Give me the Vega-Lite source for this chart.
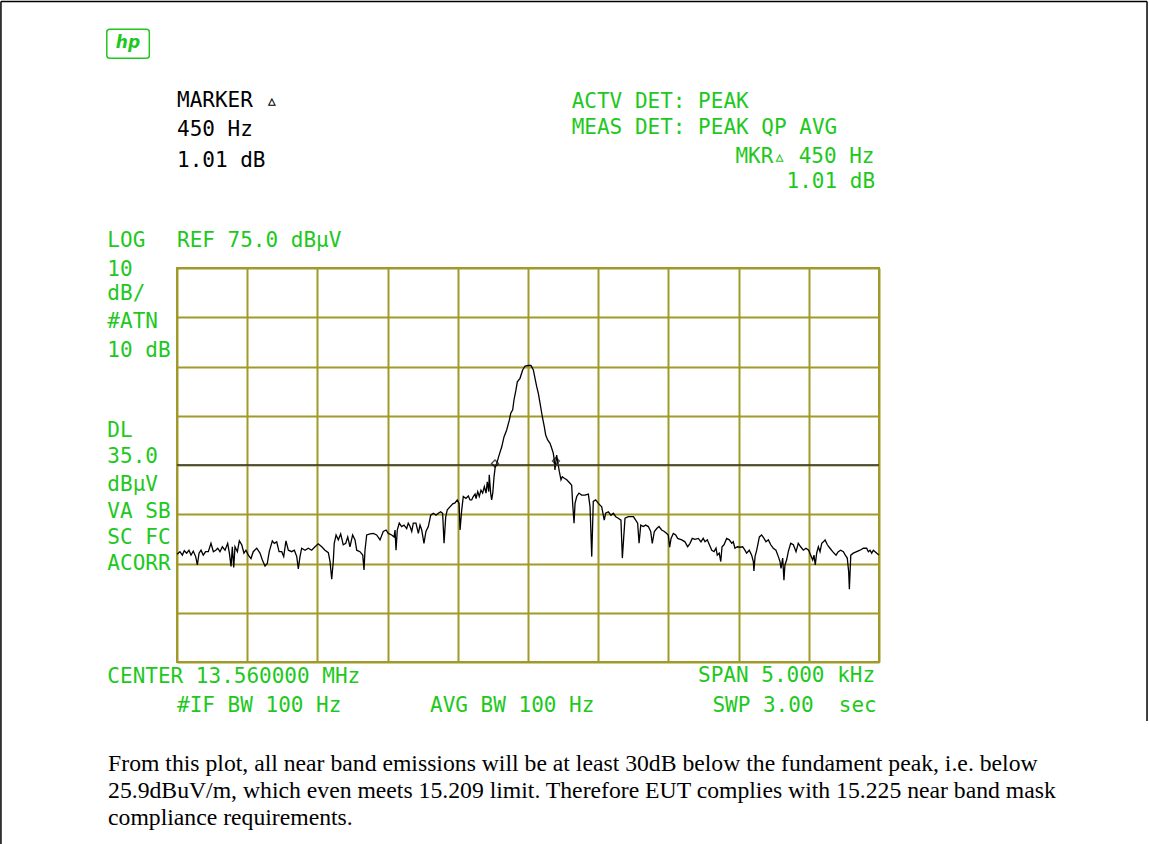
{
  "$schema": "https://vega.github.io/schema/vega-lite/v6.json",
  "width": 702,
  "height": 394,
  "autosize": {"type": "none"},
  "padding": {"left": 177, "top": 268, "right": 270, "bottom": 182},
  "background": "white",
  "config": {
    "view": {"stroke": "#9f9a2a", "strokeWidth": 2},
    "axis": {"labels": false, "ticks": false, "domain": false, "title": null, "grid": true, "gridColor": "#9f9a2a", "gridWidth": 2, "gridOpacity": 1},
    "text": {"font": "DejaVu Sans Mono", "fontSize": 21, "color": "#1ec81e", "align": "left", "baseline": "middle"}
  },
  "layer": [
    {
      "data": {"values": [
        {"hz":-2500,"dbuv":16.9},{"hz":-2479,"dbuv":17.4},{"hz":-2462,"dbuv":16.7},{"hz":-2448,"dbuv":17.6},{"hz":-2431,"dbuv":17.1},{"hz":-2415,"dbuv":17.7},{"hz":-2400,"dbuv":16.7},{"hz":-2384,"dbuv":17.5},{"hz":-2367,"dbuv":16.4},{"hz":-2355,"dbuv":14.7},{"hz":-2343,"dbuv":17.1},{"hz":-2329,"dbuv":17.7},{"hz":-2313,"dbuv":16.7},{"hz":-2296,"dbuv":17.4},{"hz":-2277,"dbuv":17.4},{"hz":-2258,"dbuv":19.1},{"hz":-2241,"dbuv":17.4},{"hz":-2224,"dbuv":17.7},{"hz":-2210,"dbuv":18.1},{"hz":-2194,"dbuv":17.4},{"hz":-2177,"dbuv":18.4},{"hz":-2158,"dbuv":17.7},{"hz":-2139,"dbuv":19.1},{"hz":-2127,"dbuv":17.1},{"hz":-2115,"dbuv":14.4},{"hz":-2106,"dbuv":18.4},{"hz":-2096,"dbuv":14.2},{"hz":-2087,"dbuv":18.4},{"hz":-2070,"dbuv":17.4},{"hz":-2056,"dbuv":19.6},{"hz":-2039,"dbuv":18.8},{"hz":-2023,"dbuv":17.1},{"hz":-2009,"dbuv":17.7},{"hz":-1992,"dbuv":16.7},{"hz":-1973,"dbuv":16.0},{"hz":-1957,"dbuv":17.4},{"hz":-1932,"dbuv":18.1},{"hz":-1909,"dbuv":17.1},{"hz":-1892,"dbuv":15.7},{"hz":-1873,"dbuv":14.5},{"hz":-1857,"dbuv":15.0},{"hz":-1843,"dbuv":17.4},{"hz":-1821,"dbuv":19.6},{"hz":-1807,"dbuv":19.1},{"hz":-1790,"dbuv":19.4},{"hz":-1773,"dbuv":17.4},{"hz":-1754,"dbuv":17.4},{"hz":-1740,"dbuv":16.4},{"hz":-1724,"dbuv":19.6},{"hz":-1707,"dbuv":17.7},{"hz":-1683,"dbuv":17.4},{"hz":-1664,"dbuv":17.7},{"hz":-1647,"dbuv":16.4},{"hz":-1636,"dbuv":13.9},{"hz":-1624,"dbuv":16.4},{"hz":-1612,"dbuv":18.1},{"hz":-1588,"dbuv":17.7},{"hz":-1565,"dbuv":18.1},{"hz":-1541,"dbuv":17.7},{"hz":-1517,"dbuv":18.4},{"hz":-1494,"dbuv":19.0},{"hz":-1469,"dbuv":18.4},{"hz":-1446,"dbuv":17.7},{"hz":-1422,"dbuv":17.2},{"hz":-1410,"dbuv":15.4},{"hz":-1398,"dbuv":11.8},{"hz":-1387,"dbuv":15.4},{"hz":-1380,"dbuv":19.1},{"hz":-1367,"dbuv":20.8},{"hz":-1351,"dbuv":19.8},{"hz":-1334,"dbuv":21.0},{"hz":-1316,"dbuv":18.8},{"hz":-1298,"dbuv":19.1},{"hz":-1284,"dbuv":20.4},{"hz":-1268,"dbuv":18.4},{"hz":-1249,"dbuv":20.8},{"hz":-1232,"dbuv":19.8},
        {"hz":-1220,"dbuv":17.7},{"hz":-1197,"dbuv":17.4},{"hz":-1177,"dbuv":16.7},{"hz":-1168,"dbuv":13.7},{"hz":-1161,"dbuv":17.7},{"hz":-1149,"dbuv":20.8},{"hz":-1125,"dbuv":21.0},{"hz":-1102,"dbuv":21.1},{"hz":-1078,"dbuv":20.8},{"hz":-1054,"dbuv":19.8},{"hz":-1031,"dbuv":21.5},{"hz":-1011,"dbuv":21.8},{"hz":-995,"dbuv":21.1},{"hz":-971,"dbuv":20.8},{"hz":-954,"dbuv":20.4},{"hz":-947,"dbuv":21.8},{"hz":-940,"dbuv":17.7},{"hz":-931,"dbuv":21.8},{"hz":-917,"dbuv":23.2},{"hz":-900,"dbuv":22.5},{"hz":-883,"dbuv":22.8},{"hz":-864,"dbuv":22.1},{"hz":-853,"dbuv":23.2},{"hz":-840,"dbuv":22.5},{"hz":-828,"dbuv":21.5},{"hz":-817,"dbuv":23.2},{"hz":-798,"dbuv":23.2},{"hz":-781,"dbuv":21.1},{"hz":-769,"dbuv":22.8},{"hz":-757,"dbuv":21.8},{"hz":-741,"dbuv":19.1},{"hz":-727,"dbuv":21.5},{"hz":-710,"dbuv":22.5},{"hz":-693,"dbuv":24.8},{"hz":-674,"dbuv":25.2},{"hz":-655,"dbuv":24.8},{"hz":-639,"dbuv":25.2},{"hz":-622,"dbuv":25.5},{"hz":-608,"dbuv":25.2},{"hz":-598,"dbuv":19.1},{"hz":-586,"dbuv":24.5},{"hz":-575,"dbuv":25.9},{"hz":-556,"dbuv":26.5},{"hz":-536,"dbuv":27.1},{"hz":-520,"dbuv":27.3},{"hz":-504,"dbuv":27.9},{"hz":-491,"dbuv":27.2},{"hz":-484,"dbuv":21.8},{"hz":-472,"dbuv":25.9},{"hz":-461,"dbuv":28.6},{"hz":-442,"dbuv":28.2},{"hz":-425,"dbuv":28.7},{"hz":-413,"dbuv":27.9},{"hz":-401,"dbuv":27.9},{"hz":-390,"dbuv":28.6},{"hz":-377,"dbuv":29.1},{"hz":-370,"dbuv":28.2},{"hz":-358,"dbuv":29.6},{"hz":-347,"dbuv":28.6},{"hz":-335,"dbuv":29.9},{"hz":-323,"dbuv":29.3},{"hz":-311,"dbuv":30.6},{"hz":-299,"dbuv":29.3},{"hz":-290,"dbuv":31.6},{"hz":-280,"dbuv":29.6},{"hz":-276,"dbuv":33.0},{"hz":-266,"dbuv":29.3},{"hz":-259,"dbuv":27.9},{"hz":-251,"dbuv":29.3},{"hz":-242,"dbuv":32.6},{"hz":-233,"dbuv":34.7},{"hz":-223,"dbuv":35.3},{"hz":-209,"dbuv":36.7},{"hz":-187,"dbuv":38.7},{"hz":-171,"dbuv":40.7},{"hz":-152,"dbuv":42.1},{"hz":-133,"dbuv":44.1},{"hz":-123,"dbuv":45.5},{"hz":-109,"dbuv":46.2},{"hz":-100,"dbuv":48.2},{"hz":-86,"dbuv":50.2},{"hz":-76,"dbuv":51.9},{"hz":-57,"dbuv":52.6},{"hz":-38,"dbuv":54.3},{"hz":-21,"dbuv":55.1},{"hz":2,"dbuv":55.2},
        {"hz":21,"dbuv":55.2},{"hz":38,"dbuv":54.3},{"hz":50,"dbuv":52.6},{"hz":62,"dbuv":50.9},{"hz":74,"dbuv":49.5},{"hz":86,"dbuv":47.5},{"hz":102,"dbuv":44.8},{"hz":116,"dbuv":42.8},{"hz":126,"dbuv":41.1},{"hz":140,"dbuv":40.1},{"hz":157,"dbuv":39.4},{"hz":169,"dbuv":38.4},{"hz":180,"dbuv":37.4},{"hz":187,"dbuv":36.0},{"hz":192,"dbuv":34.0},{"hz":204,"dbuv":37.0},{"hz":214,"dbuv":35.2},{"hz":223,"dbuv":33.7},{"hz":235,"dbuv":32.0},{"hz":244,"dbuv":32.6},{"hz":259,"dbuv":32.3},{"hz":276,"dbuv":32.0},{"hz":299,"dbuv":31.3},{"hz":311,"dbuv":30.9},{"hz":318,"dbuv":27.2},{"hz":328,"dbuv":23.2},{"hz":335,"dbuv":27.2},{"hz":347,"dbuv":28.6},{"hz":363,"dbuv":29.3},{"hz":382,"dbuv":28.9},{"hz":406,"dbuv":28.9},{"hz":430,"dbuv":29.1},{"hz":442,"dbuv":26.5},{"hz":454,"dbuv":16.4},{"hz":465,"dbuv":27.6},{"hz":482,"dbuv":27.9},{"hz":501,"dbuv":27.2},{"hz":525,"dbuv":26.5},{"hz":543,"dbuv":23.8},{"hz":553,"dbuv":25.2},{"hz":572,"dbuv":25.5},{"hz":591,"dbuv":24.8},{"hz":608,"dbuv":25.2},{"hz":625,"dbuv":24.5},{"hz":643,"dbuv":24.2},{"hz":662,"dbuv":23.8},{"hz":672,"dbuv":16.1},{"hz":682,"dbuv":20.4},{"hz":691,"dbuv":24.2},{"hz":715,"dbuv":24.5},{"hz":751,"dbuv":24.5},{"hz":767,"dbuv":23.8},{"hz":781,"dbuv":23.2},{"hz":791,"dbuv":19.1},{"hz":803,"dbuv":22.8},{"hz":821,"dbuv":22.5},{"hz":838,"dbuv":22.8},{"hz":857,"dbuv":22.5},{"hz":874,"dbuv":21.5},{"hz":885,"dbuv":19.1},{"hz":900,"dbuv":21.5},{"hz":917,"dbuv":22.1},{"hz":933,"dbuv":22.5},{"hz":952,"dbuv":21.8},{"hz":971,"dbuv":21.5},{"hz":988,"dbuv":21.1},{"hz":999,"dbuv":20.8},{"hz":1009,"dbuv":18.3},{"hz":1019,"dbuv":20.1},{"hz":1035,"dbuv":21.1},{"hz":1052,"dbuv":20.8},{"hz":1066,"dbuv":20.1},{"hz":1095,"dbuv":19.8},{"hz":1118,"dbuv":19.4},{"hz":1137,"dbuv":18.4},{"hz":1154,"dbuv":19.1},{"hz":1170,"dbuv":20.1},{"hz":1189,"dbuv":19.9},{"hz":1213,"dbuv":20.1},{"hz":1232,"dbuv":19.4},{"hz":1248,"dbuv":20.1},
        {"hz":1261,"dbuv":19.4},{"hz":1277,"dbuv":19.8},{"hz":1292,"dbuv":18.8},{"hz":1309,"dbuv":17.7},{"hz":1325,"dbuv":17.4},{"hz":1339,"dbuv":18.1},{"hz":1348,"dbuv":16.7},{"hz":1362,"dbuv":17.1},{"hz":1373,"dbuv":15.4},{"hz":1382,"dbuv":18.4},{"hz":1396,"dbuv":18.8},{"hz":1415,"dbuv":20.1},{"hz":1434,"dbuv":19.8},{"hz":1451,"dbuv":19.1},{"hz":1462,"dbuv":19.4},{"hz":1474,"dbuv":18.1},{"hz":1491,"dbuv":18.4},{"hz":1510,"dbuv":18.3},{"hz":1529,"dbuv":18.4},{"hz":1545,"dbuv":17.7},{"hz":1557,"dbuv":17.1},{"hz":1576,"dbuv":17.7},{"hz":1593,"dbuv":16.7},{"hz":1605,"dbuv":15.4},{"hz":1609,"dbuv":13.5},{"hz":1617,"dbuv":16.4},{"hz":1629,"dbuv":17.7},{"hz":1648,"dbuv":20.4},{"hz":1664,"dbuv":20.8},{"hz":1681,"dbuv":20.1},{"hz":1695,"dbuv":19.4},{"hz":1712,"dbuv":19.8},{"hz":1729,"dbuv":18.8},{"hz":1747,"dbuv":18.1},{"hz":1766,"dbuv":17.7},{"hz":1783,"dbuv":16.4},{"hz":1795,"dbuv":15.4},{"hz":1802,"dbuv":14.0},{"hz":1814,"dbuv":16.1},{"hz":1823,"dbuv":11.6},{"hz":1830,"dbuv":14.7},{"hz":1842,"dbuv":15.7},{"hz":1854,"dbuv":17.4},{"hz":1871,"dbuv":19.1},{"hz":1890,"dbuv":18.8},{"hz":1909,"dbuv":17.4},{"hz":1925,"dbuv":19.1},{"hz":1942,"dbuv":18.4},{"hz":1961,"dbuv":17.7},{"hz":1980,"dbuv":18.1},{"hz":1999,"dbuv":17.7},{"hz":2013,"dbuv":16.7},{"hz":2028,"dbuv":15.7},{"hz":2037,"dbuv":16.7},{"hz":2046,"dbuv":14.7},{"hz":2056,"dbuv":17.1},{"hz":2068,"dbuv":18.4},{"hz":2080,"dbuv":17.4},{"hz":2092,"dbuv":19.1},{"hz":2104,"dbuv":19.4},{"hz":2116,"dbuv":19.8},{"hz":2132,"dbuv":18.8},{"hz":2151,"dbuv":18.1},{"hz":2170,"dbuv":17.4},{"hz":2194,"dbuv":16.7},{"hz":2210,"dbuv":17.4},{"hz":2227,"dbuv":17.7},{"hz":2246,"dbuv":17.4},{"hz":2260,"dbuv":16.7},{"hz":2274,"dbuv":16.1},{"hz":2284,"dbuv":13.3},{"hz":2289,"dbuv":9.8},{"hz":2299,"dbuv":16.7},{"hz":2317,"dbuv":17.1},{"hz":2341,"dbuv":17.4},{"hz":2365,"dbuv":17.7},{"hz":2389,"dbuv":18.1},{"hz":2412,"dbuv":18.1},{"hz":2424,"dbuv":17.4},{"hz":2436,"dbuv":17.7},{"hz":2448,"dbuv":17.1},{"hz":2460,"dbuv":17.7},{"hz":2472,"dbuv":17.4},{"hz":2484,"dbuv":17.1},{"hz":2500,"dbuv":16.7}
      ]},
      "mark": {"type": "line", "color": "#000000", "strokeWidth": 1.3},
      "encoding": {
        "x": {"field": "hz", "type": "quantitative", "scale": {"domain": [-2500, 2500], "nice": false, "zero": false}, "axis": {"values": [-2500,-2000,-1500,-1000,-500,0,500,1000,1500,2000,2500]}},
        "y": {"field": "dbuv", "type": "quantitative", "scale": {"domain": [-5, 75], "nice": false, "zero": false}, "axis": {"values": [-5,5,15,25,35,45,55,65,75]}}
      }
    },
    {"data": {"values": [{}]}, "mark": {"type": "rule", "color": "#333333", "strokeWidth": 1.6}, "encoding": {"y": {"datum": 35}}},
    {"data": {"values": [{}]}, "mark": {"type": "point", "shape": "diamond", "filled": false, "color": "#000000", "size": 50, "strokeWidth": 1.3}, "encoding": {"x": {"datum": -235}, "y": {"datum": 35.3}}},
    {"data": {"values": [{}]}, "mark": {"type": "point", "shape": "diamond", "filled": false, "color": "#000000", "size": 50, "strokeWidth": 1.3}, "encoding": {"x": {"datum": 199}, "y": {"datum": 35.8}}},

    {"data": {"values": [{}]}, "mark": {"type": "rule", "color": "#000000", "strokeWidth": 1.5}, "encoding": {"x": {"datum": -3754}, "x2": {"datum": 4409}, "y": {"datum": 129.1}}},
    {"data": {"values": [{}]}, "mark": {"type": "rule", "color": "#000000", "strokeWidth": 1.5}, "encoding": {"x": {"datum": -3754}, "y": {"datum": 129.1}, "y2": {"datum": -42}}},
    {"data": {"values": [{}]}, "mark": {"type": "rule", "color": "#000000", "strokeWidth": 1.5}, "encoding": {"x": {"datum": 4409}, "y": {"datum": 129.1}, "y2": {"datum": -17.0}}},

    {"data": {"values": [{}]}, "mark": {"type": "rect", "filled": false, "color": "#1ec81e", "strokeWidth": 1.5, "cornerRadius": 3}, "encoding": {"x": {"datum": -3000}, "x2": {"datum": -2697}, "y": {"datum": 123.5}, "y2": {"datum": 117.6}}},
    {"data": {"values": [{}]}, "mark": {"type": "text", "text": "hp", "font": "DejaVu Sans", "fontStyle": "italic", "fontWeight": "bold", "fontSize": 17, "align": "center"}, "encoding": {"x": {"datum": -2849}, "y": {"datum": 120.6}}},

    {"data": {"values": [{}]}, "mark": {"type": "text", "text": "MARKER ▵", "color": "#000000"}, "encoding": {"x": {"datum": -2500}, "y": {"datum": 108.9}}},
    {"data": {"values": [{}]}, "mark": {"type": "text", "text": "450 Hz", "color": "#000000"}, "encoding": {"x": {"datum": -2500}, "y": {"datum": 103.1}}},
    {"data": {"values": [{}]}, "mark": {"type": "text", "text": "1.01 dB", "color": "#000000"}, "encoding": {"x": {"datum": -2500}, "y": {"datum": 96.7}}},

    {"data": {"values": [{}]}, "mark": {"type": "text", "text": "ACTV DET: PEAK"}, "encoding": {"x": {"datum": 311}, "y": {"datum": 108.8}}},
    {"data": {"values": [{}]}, "mark": {"type": "text", "text": "MEAS DET: PEAK QP AVG"}, "encoding": {"x": {"datum": 311}, "y": {"datum": 103.4}}},
    {"data": {"values": [{}]}, "mark": {"type": "text", "text": "MKR▵ 450 Hz", "align": "right"}, "encoding": {"x": {"datum": 2468}, "y": {"datum": 97.6}}},
    {"data": {"values": [{}]}, "mark": {"type": "text", "text": "1.01 dB", "align": "right"}, "encoding": {"x": {"datum": 2472}, "y": {"datum": 92.5}}},

    {"data": {"values": [{}]}, "mark": {"type": "text", "text": "LOG"}, "encoding": {"x": {"datum": -2996}, "y": {"datum": 80.5}}},
    {"data": {"values": [{}]}, "mark": {"type": "text", "text": "REF 75.0 dBµV"}, "encoding": {"x": {"datum": -2500}, "y": {"datum": 80.5}}},
    {"data": {"values": [{}]}, "mark": {"type": "text", "text": "10"}, "encoding": {"x": {"datum": -2996}, "y": {"datum": 74.6}}},
    {"data": {"values": [{}]}, "mark": {"type": "text", "text": "dB/"}, "encoding": {"x": {"datum": -2996}, "y": {"datum": 69.7}}},
    {"data": {"values": [{}]}, "mark": {"type": "text", "text": "#ATN"}, "encoding": {"x": {"datum": -2996}, "y": {"datum": 64.0}}},
    {"data": {"values": [{}]}, "mark": {"type": "text", "text": "10 dB"}, "encoding": {"x": {"datum": -2996}, "y": {"datum": 58.1}}},
    {"data": {"values": [{}]}, "mark": {"type": "text", "text": "DL"}, "encoding": {"x": {"datum": -2996}, "y": {"datum": 41.9}}},
    {"data": {"values": [{}]}, "mark": {"type": "text", "text": "35.0"}, "encoding": {"x": {"datum": -2996}, "y": {"datum": 36.6}}},
    {"data": {"values": [{}]}, "mark": {"type": "text", "text": "dBµV"}, "encoding": {"x": {"datum": -2996}, "y": {"datum": 31.0}}},
    {"data": {"values": [{}]}, "mark": {"type": "text", "text": "VA SB"}, "encoding": {"x": {"datum": -2996}, "y": {"datum": 25.5}}},
    {"data": {"values": [{}]}, "mark": {"type": "text", "text": "SC FC"}, "encoding": {"x": {"datum": -2996}, "y": {"datum": 20.2}}},
    {"data": {"values": [{}]}, "mark": {"type": "text", "text": "ACORR"}, "encoding": {"x": {"datum": -2996}, "y": {"datum": 14.9}}},

    {"data": {"values": [{}]}, "mark": {"type": "text", "text": "CENTER 13.560000 MHz"}, "encoding": {"x": {"datum": -2996}, "y": {"datum": -8.1}}},
    {"data": {"values": [{}]}, "mark": {"type": "text", "text": "#IF BW 100 Hz"}, "encoding": {"x": {"datum": -2500}, "y": {"datum": -13.9}}},
    {"data": {"values": [{}]}, "mark": {"type": "text", "text": "AVG BW 100 Hz"}, "encoding": {"x": {"datum": -698}, "y": {"datum": -13.9}}},
    {"data": {"values": [{}]}, "mark": {"type": "text", "text": "SPAN 5.000 kHz", "align": "right"}, "encoding": {"x": {"datum": 2472}, "y": {"datum": -7.9}}},
    {"data": {"values": [{}]}, "mark": {"type": "text", "text": "SWP 3.00\u00a0 sec", "align": "right"}, "encoding": {"x": {"datum": 2484}, "y": {"datum": -13.9}}},

    {"data": {"values": [{}]}, "mark": {"type": "text", "text": "From this plot, all near band emissions will be at least 30dB below the fundament peak, i.e. below", "font": "Liberation Serif", "fontSize": 23.7, "color": "#000000"}, "encoding": {"x": {"datum": -2991}, "y": {"datum": -25.7}}},
    {"data": {"values": [{}]}, "mark": {"type": "text", "text": "25.9dBuV/m, which even meets 15.209 limit. Therefore EUT complies with 15.225 near band mask", "font": "Liberation Serif", "fontSize": 23.7, "color": "#000000"}, "encoding": {"x": {"datum": -2991}, "y": {"datum": -31.2}}},
    {"data": {"values": [{}]}, "mark": {"type": "text", "text": "compliance requirements.", "font": "Liberation Serif", "fontSize": 23.7, "color": "#000000"}, "encoding": {"x": {"datum": -2991}, "y": {"datum": -36.7}}}
  ]
}
